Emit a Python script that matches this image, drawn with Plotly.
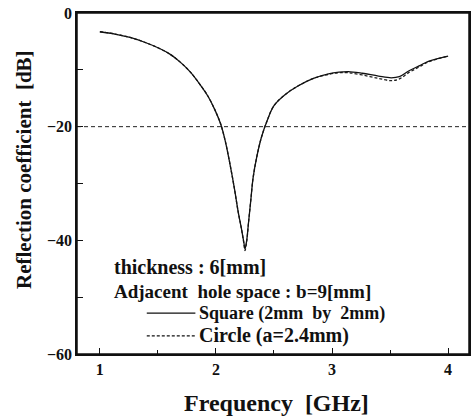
import plotly.graph_objects as go

freq_sq = [1.0, 1.13, 1.26, 1.38, 1.51, 1.6, 1.69, 1.78, 1.86, 1.93, 1.99, 2.04, 2.08, 2.12, 2.16, 2.19, 2.22, 2.24, 2.25, 2.265, 2.28, 2.30, 2.32, 2.35, 2.39, 2.44, 2.5, 2.6, 2.71, 2.84, 2.97, 3.06, 3.14, 3.26, 3.4, 3.51, 3.58, 3.66, 3.75, 3.83, 3.92, 4.0]
refl_sq = [-3.3, -3.7, -4.3, -5.1, -6.2, -7.2, -8.6, -10.4, -12.5, -14.6, -17.0, -19.5, -22.5, -26.5, -31.0, -34.8, -38.0, -40.3, -41.5, -40.0, -37.0, -33.0, -29.0, -25.5, -22.0, -19.0, -16.3, -14.3, -12.8, -11.5, -10.7, -10.4, -10.3, -10.6, -11.1, -11.4, -11.2, -10.2, -9.3, -8.5, -8.0, -7.6]

freq_ci = freq_sq
refl_ci = [-3.3, -3.7, -4.3, -5.1, -6.2, -7.2, -8.6, -10.4, -12.5, -14.6, -17.0, -19.5, -22.5, -26.5, -31.0, -34.8, -38.0, -40.5, -41.8, -40.2, -37.0, -33.0, -29.0, -25.5, -22.0, -19.0, -16.3, -14.3, -12.8, -11.5, -10.8, -10.5, -10.5, -10.9, -11.5, -11.9, -11.6, -10.5, -9.5, -8.6, -8.0, -7.6]

ref_level = -20
x_ticks = [1, 2, 3, 4]
y_ticks = [0, -20, -40, -60]
y_labels = ["0", "−20", "−40", "−60"]

serif = "Liberation Serif"
ink = "#111111"

fig = go.Figure()
fig.add_trace(go.Scatter(x=freq_ci, y=refl_ci, mode="lines",
                         line=dict(color="#222222", width=1.3, dash="3px,2px"), line_shape="spline"))
fig.add_trace(go.Scatter(x=freq_sq, y=refl_sq, mode="lines",
                         line=dict(color=ink, width=1.3), line_shape="spline"))

fig.add_shape(type="line", xref="paper", x0=0, x1=1, yref="y", y0=ref_level, y1=ref_level,
              line=dict(color="#222222", width=1, dash="4px,3px"))
# frame
fig.add_shape(type="rect", xref="paper", yref="paper", x0=0, x1=1, y0=0, y1=1,
              line=dict(color=ink, width=1.5))

axis_common = dict(ticks="inside", ticklen=6, tickcolor=ink, tickwidth=1,
                   showline=True, linecolor=ink, linewidth=1.5, mirror=True,
                   showgrid=False, zeroline=False, ticklabeloverflow="allow",
                   tickfont=dict(size=16, family=serif, color=ink))

fig.update_layout(
    width=472, height=419,
    margin=dict(l=77, r=1, t=13, b=65),
    plot_bgcolor="white", paper_bgcolor="white",
    showlegend=False,
    font=dict(family=serif, color=ink),
    xaxis=dict(range=[0.803, 4.18], tickvals=x_ticks, ticktext=[f"<b>{v}</b>" for v in x_ticks],
               minor=dict(dtick=0.5, ticks="inside", ticklen=4, tickcolor=ink), **axis_common),
    yaxis=dict(range=[-60, 0], tickvals=y_ticks, ticktext=[f"<b>{v}</b>" for v in y_labels],
               minor=dict(dtick=10, ticks="inside", ticklen=6, tickcolor=ink), **axis_common),
)

def note(text, x, y, size, anchor="left", angle=0):
    return dict(text=f"<b>{text}</b>", x=x, y=y, xref="paper", yref="paper", showarrow=False,
                xanchor=anchor, yanchor="middle", textangle=angle, font=dict(size=size, family=serif, color=ink))

ann = [
    note("Frequency  [GHz]", 0.508, -0.144, 24, "center"),
    note("Reflection coefficient  [dB]", -0.135, 0.54, 21, "center", -90),
    note("thickness : 6[mm]", 0.089, 0.255, 20),
    note("Adjacent  hole space : b=9[mm]", 0.089, 0.182, 19),
    note("Square (2mm  by  2mm)", 0.307, 0.120, 18),
    note("Circle (a=2.4mm)", 0.307, 0.053, 20),
]
fig.update_layout(annotations=ann)
fig.add_shape(type="line", xref="paper", yref="paper", x0=0.178, x1=0.302, y0=0.120, y1=0.120,
              line=dict(color=ink, width=1.3))
fig.add_shape(type="line", xref="paper", yref="paper", x0=0.178, x1=0.302, y0=0.053, y1=0.053,
              line=dict(color=ink, width=1.2, dash="3px,2px"))

fig.write_html("out.html", config={"displayModeBar": False},
               post_script="document.body.style.margin='0';document.body.style.overflow='hidden';")
